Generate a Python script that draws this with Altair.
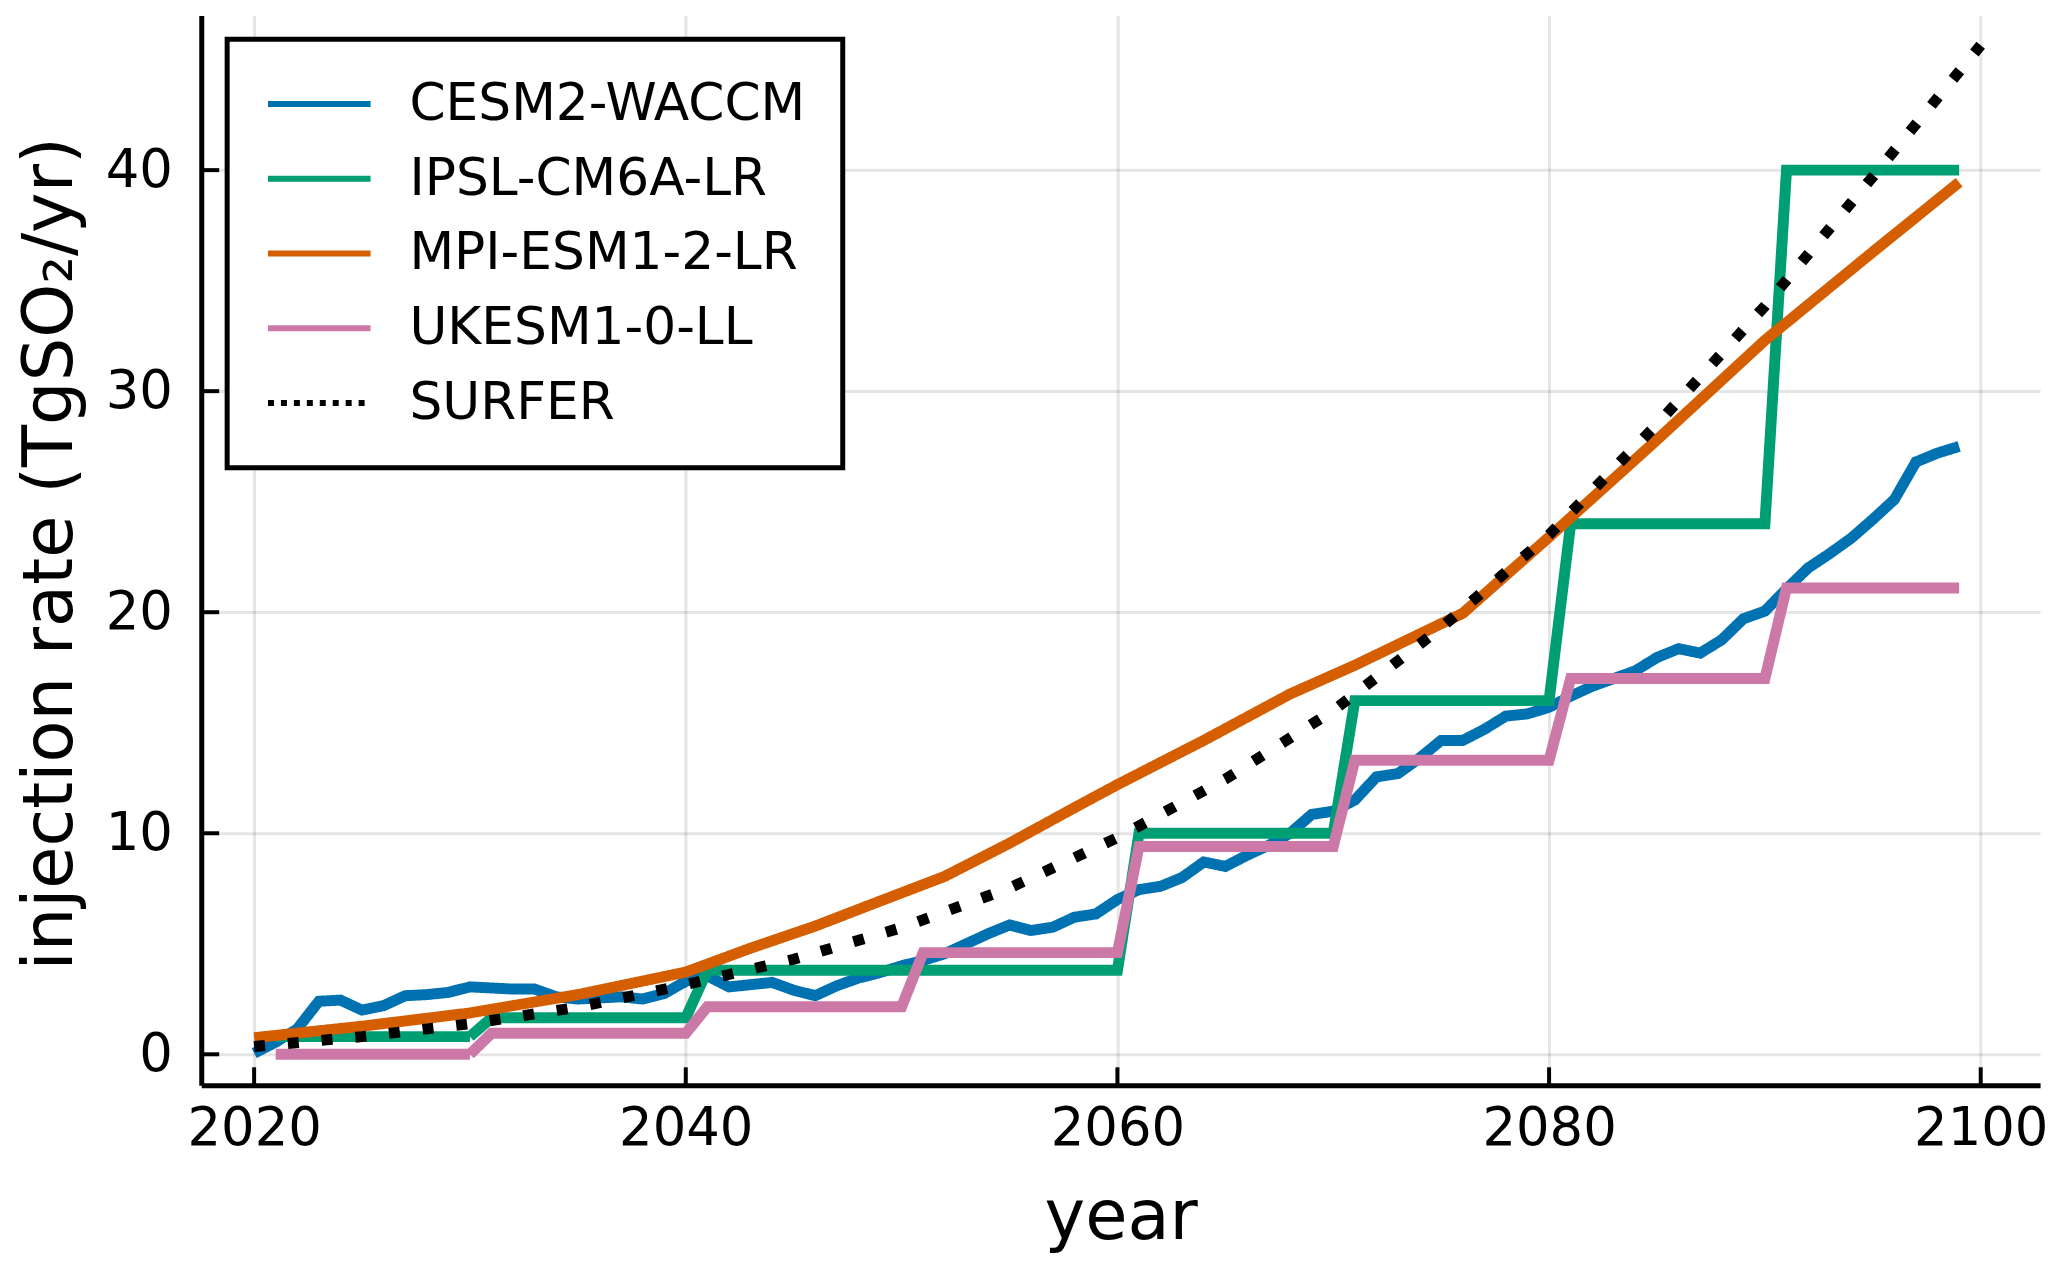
import altair as alt
import pandas as pd

# ---------------- data ----------------
models = ["CESM2-WACCM", "IPSL-CM6A-LR", "MPI-ESM1-2-LR", "UKESM1-0-LL", "SURFER"]
colors = ["#0072B2", "#009E73", "#D55E00", "#CC79A7", "#000000"]

cesm_years = list(range(2020, 2100))
cesm_vals = [0.05, 0.55, 1.15, 2.4, 2.45, 2.0, 2.2, 2.65, 2.7, 2.8,
             3.05, 3.0, 2.95, 2.95, 2.6, 2.5, 2.55, 2.6, 2.5, 2.75,
             3.3, 3.55, 3.05, 3.15, 3.25, 2.9, 2.65, 3.1, 3.45, 3.7,
             4.0, 4.25, 4.55, 5.0, 5.45, 5.85, 5.6, 5.75, 6.2, 6.35,
             7.0, 7.45, 7.6, 8.0, 8.7, 8.5, 9.0, 9.45, 10.0, 10.85,
             11.0, 11.5, 12.55, 12.7, 13.4, 14.2, 14.2, 14.7, 15.3, 15.4,
             15.7, 16.2, 16.65, 17.0, 17.35, 17.95, 18.35, 18.15, 18.75, 19.7,
             20.05, 21.05, 22.0, 22.65, 23.35, 24.2, 25.1, 26.8, 27.2, 27.5]

ipsl_years = list(range(2021, 2100))
ipsl_vals = ([0.8] * 10 + [1.65] * 10 + [3.8] * 20 + [10.0] * 10 +
             [16.0] * 10 + [24.0] * 10 + [40.0] * 9)

ukesm_years = list(range(2021, 2100))
ukesm_vals = ([0.0] * 10 + [0.95] * 10 + [2.15] * 10 + [4.6] * 10 + [9.4] * 10 +
              [13.3] * 10 + [17.0] * 10 + [21.1] * 9)

mpi_years = [2020, 2025, 2030, 2035, 2040, 2043, 2046, 2049, 2052, 2055, 2058,
             2060, 2064, 2068, 2071, 2076, 2080, 2085, 2090, 2095, 2099]
mpi_vals = [0.75, 1.27, 1.87, 2.7, 3.72, 4.8, 5.8, 6.93, 8.05, 9.55, 11.15,
            12.2, 14.2, 16.3, 17.6, 19.95, 23.4, 27.8, 32.3, 36.3, 39.45]

surfer_years = [2020, 2025, 2030, 2035, 2040, 2045, 2050, 2055, 2060, 2065,
                2070, 2075, 2080, 2085, 2090, 2095, 2100]
surfer_vals = [0.35, 0.8, 1.38, 2.13, 3.15, 4.3, 5.73, 7.52, 9.8, 12.45,
               15.55, 19.3, 23.5, 28.5, 33.85, 39.7, 45.65]

x_ticks = [2020, 2040, 2060, 2080, 2100]
y_ticks = [0, 10, 20, 30, 40]

series = {
    "CESM2-WACCM": (cesm_years, cesm_vals),
    "IPSL-CM6A-LR": (ipsl_years, ipsl_vals),
    "MPI-ESM1-2-LR": (mpi_years, mpi_vals),
    "UKESM1-0-LL": (ukesm_years, ukesm_vals),
    "SURFER": (surfer_years, surfer_vals),
}
rows = []
for m, (ys, vs) in series.items():
    for yv, vv in zip(ys, vs):
        rows.append({"year": yv, "value": vv, "model": m})
df = pd.DataFrame(rows)

# ---------------- layout ----------------
W, H = 1846, 1074
FONT = "DejaVu Sans"

x_scale = alt.Scale(domain=[2017.55, 2102.75], nice=False, zero=False)
y_scale = alt.Scale(domain=[-1.4, 47.0], nice=False, zero=False)

legend = alt.Legend(
    title=None, orient="none", legendX=26, legendY=24,
    symbolType="stroke", symbolSize=103 * 103, symbolStrokeWidth=6,
    labelFontSize=52, labelFont=FONT, labelColor="black", labelLimit=0,
    labelOffset=36, symbolOffset=1, padding=37, rowPadding=19,
    clipHeight=56,
    strokeColor="black", fillColor="white", cornerRadius=0,
)

color_enc = alt.Color("model:N", scale=alt.Scale(domain=models, range=colors),
                      legend=legend)
# dash pattern shown in the legend (SURFER dotted)
dash_enc = alt.StrokeDash(
    "model:N",
    scale=alt.Scale(domain=models, range=[[1, 0], [1, 0], [1, 0], [1, 0], [6, 7]]),
    legend=legend,
)

x_axis = alt.Axis(values=x_ticks, format="d", title="year", grid=True,
                  ticks=False, tickSize=0, labelPadding=60, labelBaseline="alphabetic",
                  titleBaseline="alphabetic", titleY=154, titleX=W / 2)
y_axis = alt.Axis(values=y_ticks, title="injection rate (TgSO₂/yr)", grid=True,
                  ticks=False, tickSize=0, labelPadding=29,
                  titleBaseline="alphabetic", titleX=-130, titleY=540)

X = alt.X("year:Q", scale=x_scale, axis=x_axis)
Y = alt.Y("value:Q", scale=y_scale, axis=y_axis)

layers = []
for m in models:
    base = alt.Chart(df).transform_filter(alt.datum.model == m)
    if m == "SURFER":
        layers.append(
            base.mark_line(strokeWidth=11, strokeDash=[11, 23], clip=True)
            .encode(x=X, y=Y, color=color_enc)
        )
    else:
        layers.append(
            base.mark_line(strokeWidth=11, clip=True)
            .encode(x=X, y=Y, color=color_enc, strokeDash=dash_enc)
        )

xt = pd.DataFrame({"year": x_ticks})
yt = pd.DataFrame({"value": y_ticks})
xtick_layer = alt.Chart(xt).mark_rule(color="black", strokeWidth=4).encode(
    x=X, y=alt.value(H), y2=alt.value(H - 18))
ytick_layer = alt.Chart(yt).mark_rule(color="black", strokeWidth=4).encode(
    y=Y, x=alt.value(0), x2=alt.value(18))

chart = alt.layer(*layers, xtick_layer, ytick_layer).properties(
    width=W, height=H,
    autosize=alt.AutoSizeParams(type="none"),
    padding={"left": 194, "top": 5, "right": 19, "bottom": 170},
    background="white",
).configure_view(stroke=None).configure_axis(
    domainColor="black", domainWidth=5,
    gridColor="black", gridOpacity=0.1, gridWidth=3,
    labelFont=FONT, labelFontSize=53, labelColor="black",
    titleFont=FONT, titleFontSize=69, titleColor="black", titleFontWeight="normal",
).configure_legend(strokeWidth=5)

chart.save("out.html", embed_options={"renderer": "svg", "actions": False})
